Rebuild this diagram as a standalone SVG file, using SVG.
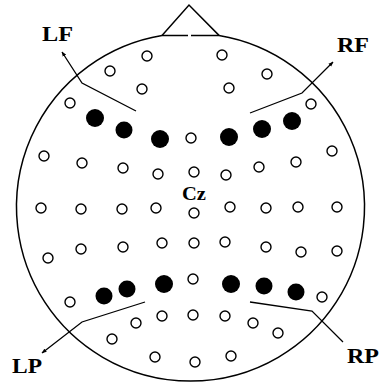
<svg xmlns="http://www.w3.org/2000/svg" width="379" height="388" viewBox="0 0 379 388">
<style>
.head{fill:none;stroke:#000;stroke-width:1.5}
.e{fill:#fff;stroke:#000;stroke-width:1.4}
.a{fill:#000}
.ptr{fill:none;stroke:#000;stroke-width:1.3}
.lbl{font-family:"Liberation Serif","Times New Roman",serif;font-weight:bold;font-size:22px;fill:#000}
.cz{font-family:"Liberation Serif","Times New Roman",serif;font-weight:bold;font-size:18px;fill:#000}
</style>
<defs>
<marker id="arr" viewBox="0 0 10 10" refX="9" refY="5" markerWidth="5" markerHeight="5" orient="auto" markerUnits="userSpaceOnUse">
<path d="M0,1 L10,5 L0,9 z" fill="#000"/>
</marker>
</defs>
<rect width="379" height="388" fill="#fff"/>
<g id="head">
<path class="head" d="M219,35.4 A174,174 0 1 1 162,35.4"/>
<path class="head" d="M162,35.4 L188,35.4 M191,35.4 L219,35.4"/>
<path class="head" d="M162,35.4 L189,5 L219,35.4"/>
</g>
<g id="connectors">
<polyline class="ptr" points="136,111 82,83 62,52" marker-end="url(#arr)"/>
<polyline class="ptr" points="250,113 302,93 333,62" marker-end="url(#arr)"/>
<polyline class="ptr" points="145,302 82,322 42,353" marker-end="url(#arr)"/>
<polyline class="ptr" points="250,302 312,311 343,342"/>
</g>
<g id="labels">
<text class="lbl" x="42" y="41" textLength="31" lengthAdjust="spacingAndGlyphs">LF</text>
<text class="lbl" x="337" y="52" textLength="32" lengthAdjust="spacingAndGlyphs">RF</text>
<text class="lbl" x="12" y="373" textLength="30" lengthAdjust="spacingAndGlyphs">LP</text>
<text class="lbl" x="347" y="363" textLength="32" lengthAdjust="spacingAndGlyphs">RP</text>
<text class="cz" x="182" y="200" textLength="24" lengthAdjust="spacingAndGlyphs">Cz</text>
</g>
<g id="electrodes">
<circle class="e" cx="147" cy="56" r="5"/>
<circle class="e" cx="222" cy="55" r="5"/>
<circle class="e" cx="110" cy="71" r="5"/>
<circle class="e" cx="267" cy="74" r="5"/>
<circle class="e" cx="142" cy="89" r="5"/>
<circle class="e" cx="229" cy="88" r="5"/>
<circle class="e" cx="70" cy="103" r="5"/>
<circle class="e" cx="311" cy="104" r="5"/>
<circle class="a" cx="95" cy="118" r="9"/>
<circle class="a" cx="124" cy="130" r="8.5"/>
<circle class="a" cx="160" cy="139" r="9"/>
<circle class="e" cx="191" cy="138" r="5"/>
<circle class="a" cx="229" cy="137" r="9"/>
<circle class="a" cx="262" cy="129" r="9"/>
<circle class="a" cx="292" cy="121" r="9"/>
<circle class="e" cx="44" cy="156" r="5"/>
<circle class="e" cx="82" cy="163" r="5"/>
<circle class="e" cx="123" cy="168" r="5"/>
<circle class="e" cx="158" cy="174" r="5"/>
<circle class="e" cx="194" cy="172" r="5"/>
<circle class="e" cx="226" cy="175" r="5"/>
<circle class="e" cx="259" cy="167" r="5"/>
<circle class="e" cx="296" cy="162" r="5"/>
<circle class="e" cx="332" cy="151" r="5"/>
<circle class="e" cx="41" cy="208" r="5"/>
<circle class="e" cx="81" cy="209" r="5"/>
<circle class="e" cx="122" cy="209" r="5"/>
<circle class="e" cx="156" cy="208" r="5"/>
<circle class="e" cx="194" cy="213" r="5"/>
<circle class="e" cx="230" cy="207" r="5"/>
<circle class="e" cx="266" cy="208" r="5"/>
<circle class="e" cx="298" cy="207" r="5"/>
<circle class="e" cx="337" cy="207" r="5"/>
<circle class="e" cx="48" cy="258" r="5"/>
<circle class="e" cx="81" cy="249" r="5"/>
<circle class="e" cx="123" cy="247" r="5"/>
<circle class="e" cx="162" cy="243" r="5"/>
<circle class="e" cx="194" cy="243" r="5"/>
<circle class="e" cx="225" cy="242" r="5"/>
<circle class="e" cx="266" cy="247" r="5"/>
<circle class="e" cx="301" cy="252" r="5"/>
<circle class="e" cx="337" cy="251" r="5"/>
<circle class="e" cx="70" cy="302" r="5"/>
<circle class="a" cx="104" cy="296" r="8.5"/>
<circle class="a" cx="127" cy="289" r="8.5"/>
<circle class="a" cx="164" cy="284" r="9"/>
<circle class="e" cx="193" cy="279" r="5"/>
<circle class="a" cx="231" cy="284" r="9"/>
<circle class="a" cx="264" cy="286" r="8.5"/>
<circle class="a" cx="296" cy="292" r="8.5"/>
<circle class="e" cx="322" cy="297" r="5"/>
<circle class="e" cx="112" cy="339" r="5"/>
<circle class="e" cx="136" cy="323" r="5"/>
<circle class="e" cx="162" cy="316" r="5"/>
<circle class="e" cx="193" cy="315" r="5"/>
<circle class="e" cx="225" cy="316" r="5"/>
<circle class="e" cx="253" cy="323" r="5"/>
<circle class="e" cx="278" cy="333" r="5"/>
<circle class="e" cx="155" cy="357" r="5"/>
<circle class="e" cx="195" cy="362" r="5"/>
<circle class="e" cx="231" cy="356" r="5"/>
</g>
</svg>
